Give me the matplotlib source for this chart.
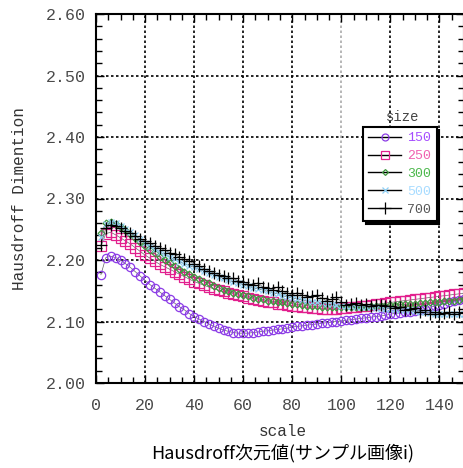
import matplotlib
matplotlib.use("Agg")
import matplotlib.pyplot as plt
import numpy as np

# scale values (2, 4, ..., 150)
scale = list(range(2, 151, 2))

size_labels = ['150', '250', '300', '500', '700']

dim_150 = [2.176, 2.204, 2.206, 2.204, 2.200, 2.194, 2.188, 2.181, 2.174, 2.167,
           2.160, 2.154, 2.148, 2.142, 2.136, 2.130, 2.124, 2.119, 2.113, 2.108,
           2.104, 2.100, 2.096, 2.092, 2.089, 2.086, 2.084, 2.082, 2.081, 2.081,
           2.081, 2.082, 2.083, 2.084, 2.085, 2.086, 2.087, 2.088, 2.089, 2.091,
           2.092, 2.093, 2.094, 2.095, 2.096, 2.097, 2.098, 2.099, 2.100, 2.101,
           2.102, 2.103, 2.104, 2.105, 2.106, 2.107, 2.108, 2.109, 2.110, 2.112,
           2.113, 2.114, 2.115, 2.116, 2.117, 2.119, 2.121, 2.123, 2.125, 2.127,
           2.129, 2.131, 2.133, 2.135, 2.137]

dim_250 = [2.222, 2.243, 2.245, 2.241, 2.236, 2.231, 2.226, 2.220, 2.214, 2.208,
           2.203, 2.198, 2.193, 2.189, 2.185, 2.181, 2.177, 2.173, 2.169, 2.165,
           2.162, 2.159, 2.156, 2.153, 2.151, 2.149, 2.147, 2.145, 2.143, 2.141,
           2.139, 2.137, 2.135, 2.134, 2.132, 2.131, 2.129, 2.128, 2.127, 2.126,
           2.125, 2.124, 2.123, 2.122, 2.122, 2.121, 2.121, 2.121, 2.121, 2.122,
           2.122, 2.123, 2.124, 2.125, 2.126, 2.127, 2.128, 2.129, 2.130, 2.131,
           2.132, 2.133, 2.134, 2.135, 2.136, 2.137, 2.138, 2.139, 2.140, 2.141,
           2.142, 2.143, 2.144, 2.145, 2.146]

dim_300 = [2.244, 2.260, 2.262, 2.259, 2.254, 2.248, 2.242, 2.235, 2.229, 2.223,
           2.217, 2.211, 2.205, 2.200, 2.195, 2.190, 2.185, 2.181, 2.177, 2.173,
           2.169, 2.165, 2.162, 2.158, 2.155, 2.152, 2.150, 2.147, 2.145, 2.143,
           2.141, 2.139, 2.137, 2.136, 2.134, 2.133, 2.132, 2.131, 2.130, 2.129,
           2.128, 2.127, 2.126, 2.125, 2.125, 2.124, 2.124, 2.123, 2.123, 2.123,
           2.123, 2.123, 2.123, 2.124, 2.124, 2.125, 2.125, 2.126, 2.126, 2.127,
           2.127, 2.128, 2.128, 2.129, 2.129, 2.130, 2.130, 2.131, 2.132, 2.132,
           2.133, 2.134, 2.134, 2.135, 2.136]

dim_500 = [2.238, 2.258, 2.262, 2.260, 2.256, 2.251, 2.246, 2.240, 2.234, 2.228,
           2.223, 2.218, 2.213, 2.209, 2.205, 2.201, 2.197, 2.194, 2.191, 2.188,
           2.185, 2.182, 2.179, 2.176, 2.173, 2.170, 2.167, 2.164, 2.162, 2.160,
           2.157, 2.155, 2.153, 2.151, 2.149, 2.147, 2.145, 2.142, 2.140, 2.138,
           2.137, 2.135, 2.134, 2.132, 2.131, 2.130, 2.129, 2.128, 2.127, 2.126,
           2.125, 2.125, 2.124, 2.124, 2.123, 2.123, 2.122, 2.122, 2.121, 2.121,
           2.120, 2.119, 2.119, 2.118, 2.117, 2.116, 2.115, 2.114, 2.113, 2.113,
           2.112, 2.112, 2.112, 2.113, 2.113]

dim_700 = [2.224, 2.252, 2.257, 2.256, 2.252, 2.247, 2.244, 2.239, 2.234, 2.231,
           2.227, 2.223, 2.219, 2.216, 2.212, 2.209, 2.205, 2.201, 2.198, 2.194,
           2.190, 2.186, 2.182, 2.179, 2.176, 2.174, 2.171, 2.170, 2.166, 2.165,
           2.161, 2.159, 2.163, 2.156, 2.154, 2.152, 2.156, 2.149, 2.146, 2.143,
           2.147, 2.143, 2.140, 2.141, 2.143, 2.138, 2.134, 2.136, 2.140, 2.132,
           2.127, 2.128, 2.130, 2.127, 2.128, 2.125, 2.127, 2.127, 2.125, 2.125,
           2.122, 2.124, 2.119, 2.120, 2.122, 2.116, 2.118, 2.113, 2.115, 2.113,
           2.114, 2.115, 2.113, 2.115, 2.114]

series = [dim_150, dim_250, dim_300, dim_500, dim_700]
markers = ['o', 's', 'D', 'x', '+']
msizes = [6, 6.5, 3.5, 5, 8]
leg_msizes = [5, 5.5, 3, 5, 9]
colors = ['#8c3ce6', '#e2208e', '#3c963c', '#8fd0f5', '#000000']
text_colors = ['#a64dff', '#f060b0', '#4cb84c', '#a8dcff', '#555555']

mono = 'Liberation Mono'

fig = plt.figure(figsize=(4.64, 4.68), dpi=100)
ax = fig.add_axes([96 / 464, 85 / 468, 368 / 464, 369 / 468])

for y, m, ms, c, lab in zip(series, markers, msizes, colors, size_labels):
    ax.plot(scale, y, color='#666666', lw=0.5, marker=m, ms=ms,
            mfc='none', mec=c, mew=0.9, label=lab)

ax.set_xlim(0, 150)
ax.set_ylim(2.0, 2.6)
ax.set_xticks(np.arange(0, 141, 20))
ax.set_xticks(np.arange(0, 151, 5), minor=True)
ax.set_yticks(np.arange(2.0, 2.61, 0.1))
ax.set_yticks(np.arange(2.0, 2.61, 0.02), minor=True)
ax.set_yticklabels(['%.2f' % v for v in np.arange(2.0, 2.61, 0.1)])

ax.tick_params(which='both', direction='in', top=True, right=True,
               labelsize=12, labelcolor='#4a4a4a', width=1)
ax.tick_params(which='major', length=6)
ax.tick_params(axis='y', which='major', pad=7)
ax.tick_params(axis='x', which='major', pad=11)
ax.tick_params(which='minor', length=4)
for lbl in ax.get_xticklabels() + ax.get_yticklabels():
    lbl.set_family(mono)

for v in np.arange(2.1, 2.55, 0.1):
    ax.axhline(v, color='black', ls=(0, (1.5, 1.5)), lw=1.2, zorder=0)
for v in [20, 40, 60, 80, 120, 140]:
    ax.axvline(v, color='black', ls=(0, (1.5, 1.5)), lw=1.2, zorder=0)
ax.axvline(100, color='#aaaaaa', ls=(0, (1.5, 1.5)), lw=1.2, zorder=0)

for s in ax.spines.values():
    s.set_linewidth(1.5)

ax.set_ylabel('Hausdroff Dimention', family=mono, fontsize=11.5,
              color='#333333', labelpad=14)
fig.text(283 / 464, 1 - 432 / 468, 'scale', family=mono, fontsize=11.5,
         color='#333333', ha='center', va='center')
fig.text(283 / 464, 1 - 453 / 468, 'Hausdroff次元値(サンプル画像i)',
         family=['Noto Sans CJK JP', 'DejaVu Sans'], fontsize=13,
         ha='center', va='center')

# legend with its title sitting above the box
labels = size_labels
leg_handles = []
for m, ms, c in zip(markers, leg_msizes, colors):
    h, = ax.plot([], [], color='black', lw=1, marker=m, ms=ms,
                 mfc='none', mec=c, mew=0.9)
    leg_handles.append(h)
leg = ax.legend(leg_handles, labels, loc='upper left',
                bbox_to_anchor=(0.726, 0.694), borderaxespad=0,
                numpoints=1, handlelength=2.5, fancybox=False,
                framealpha=1, edgecolor='black',
                shadow={'color': 'black', 'alpha': 1},
                prop={'family': mono, 'size': 9.5}, labelspacing=0.42,
                handletextpad=0.45, borderpad=0.4)
leg.get_frame().set_linewidth(1.5)
for t, c in zip(leg.get_texts(), text_colors):
    t.set_color(c)
ax.text(0.834, 0.721, 'size', transform=ax.transAxes, family=mono,
        fontsize=10, color='#444444', ha='center', va='center')

plt.savefig('out.png', dpi=100)
